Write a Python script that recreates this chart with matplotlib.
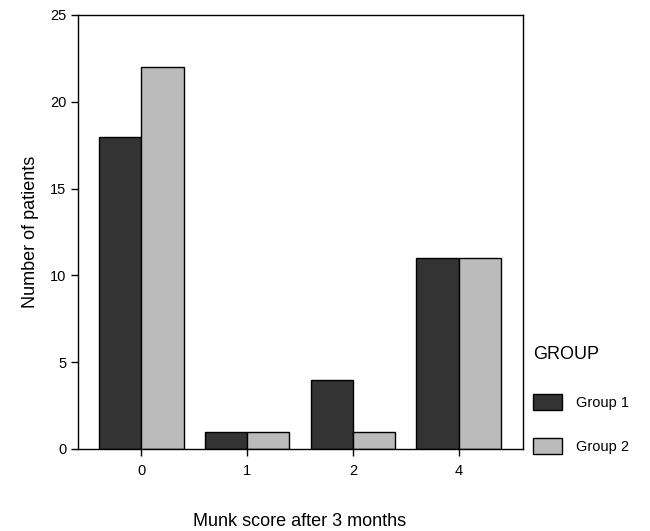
import matplotlib
matplotlib.use('Agg')
import matplotlib.pyplot as plt
import numpy as np
from matplotlib.patches import Patch

plt.rcParams['font.family'] = ['Liberation Sans', 'DejaVu Sans']

# data
categories = ['0', '1', '2', '4']
group1 = [18, 1, 4, 11]
group2 = [22, 1, 1, 11]
series_names = ['Group 1', 'Group 2']
colors = ['#333333', '#bbbbbb']

fig = plt.figure(figsize=(6.5, 5.31), dpi=100)
ax = fig.add_axes([78 / 650, 82 / 531, 445 / 650, 434 / 531])

x = np.arange(len(categories))
w = 0.4
ax.bar(x - w / 2, group1, width=w, color=colors[0], edgecolor='black', linewidth=1.0)
ax.bar(x + w / 2, group2, width=w, color=colors[1], edgecolor='black', linewidth=1.0)

ax.set_xlim(-0.6, 3.61)
ax.set_ylim(0, 25)
ax.set_yticks(np.arange(0, 26, 5))
ax.set_xticks(x)
ax.set_xticklabels(categories)
ax.tick_params(axis='both', direction='out', labelsize=10.5, length=5, width=1)
ax.tick_params(axis='x', pad=6)
for s in ax.spines.values():
    s.set_linewidth(1.0)

ax.set_ylabel('Number of patients', fontsize=13, labelpad=8)
# x label sits well below the axes, near the bottom edge
fig.text(300 / 650, 1 - 521 / 531, 'Munk score after 3 months', fontsize=13,
         ha='center', va='center')

handles = [Patch(facecolor=c, edgecolor='black', label=n) for c, n in zip(colors, series_names)]
leg = ax.legend(handles=handles, title='GROUP', loc='lower left',
                bbox_to_anchor=(1.0, -0.035), frameon=False, fontsize=10.5,
                title_fontsize=13, handlelength=2.0, handleheight=1.3,
                labelspacing=1.9, borderaxespad=0.3, handletextpad=0.9)
leg._legend_box.align = 'left'
leg._legend_box.sep = 23

fig.savefig('out.png', dpi=100)
